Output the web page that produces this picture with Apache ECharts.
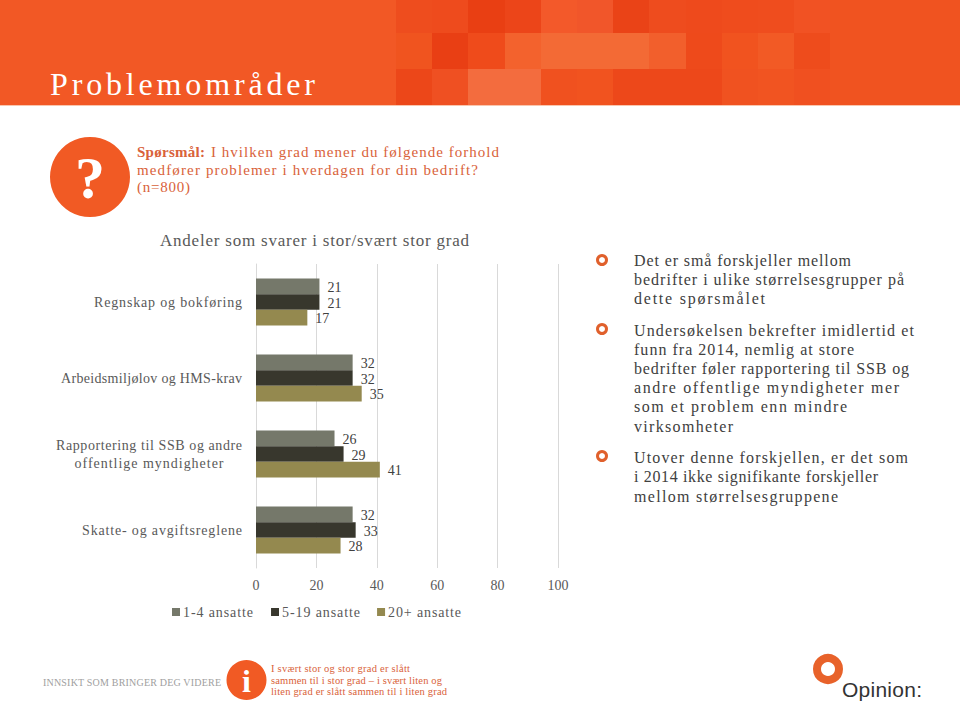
<!DOCTYPE html>
<html><head><meta charset="utf-8">
<style>html,body{margin:0;padding:0;background:#fff;overflow:hidden}#c{width:960px;height:702px}</style>
<script src="https://cdn.jsdelivr.net/npm/echarts@6/dist/echarts.min.js"></script>
</head><body><div id="c"></div>
<script>
// Chart data
const categories = ['Regnskap og bokføring','Arbeidsmiljølov og HMS-krav','Rapportering til SSB og andre\noffentlige myndigheter','Skatte- og avgiftsreglene'];
const seriesNames = ['1-4 ansatte','5-19 ansatte','20+ ansatte'];
const small = [21,32,26,32];
const medium = [21,32,29,33];
const large = [17,35,41,28];
const ticks = [0,20,40,60,80,100];
const chartTitle = 'Andeler som svarer i stor/svært stor grad';
const pageTitle = 'Problemområder';

const F = '"Liberation Serif"';
const colors = ['#75786a','#38372d','#94894f'];
const orangeText = '#d9623a';

// rendered width of each text line in the slide
const widths = {
  'Problemområder':265,
  'Spørsmål:':68,
  'I hvilken grad mener du følgende forhold':288,
  'medfører problemer i hverdagen for din bedrift?':341,
  '(n=800)':53,
  'Det er små forskjeller mellom':217,
  'bedrifter i ulike størrelsesgrupper på':270,
  'dette spørsmålet':131,
  'Undersøkelsen bekrefter imidlertid et':280,
  'funn fra 2014, nemlig at store':220,
  'bedrifter føler rapportering til SSB og':275,
  'andre offentlige myndigheter mer':265,
  'som et problem enn mindre':213,
  'virksomheter':99,
  'Utover denne forskjellen, er det som':274,
  'i 2014 ikke signifikante forskjeller':244,
  'mellom størrelsesgruppene':204,
  'INNSIKT SOM BRINGER DEG VIDERE':178,
  'I svært stor og stor grad er slått':139,
  'sammen til i stor grad – i svært liten og':171,
  'liten grad er slått sammen til i liten grad':176,
  'Opinion:':80,
  'Regnskap og bokføring':148,
  'Arbeidsmiljølov og HMS-krav':181,
  'Rapportering til SSB og andre':186,
  'offentlige myndigheter':149,
  'Skatte- og avgiftsreglene':160,
  'Andeler som svarer i stor/svært stor grad':309,
  '1-4 ansatte':70,
  '5-19 ansatte':78,
  '20+ ansatte':73
};

// header mosaic
const mosaicX = [396,432,468,505,541,577,613,649,686,722,758,794,830];
const mosaicColors = [
  ['#ee4d1e','#ee4b1d','#e93f13','#ec4519','#f3592a','#f1562a','#ea4317','#ee4c1e','#ee4a1c','#ef4c1d','#ef4d1e','#f15223'],
  ['#f0541f','#e93f14','#ef4b1b','#f3622d','#f36a35','#f36a35','#f36a35','#f25f2c','#ee4a1b','#f1531f','#f25a25','#ee4c1c'],
  ['#ec4719','#ef5022','#f36c3e','#f36c3e','#f0511f','#f1531f','#ed481a','#ed481a','#ed481a','#f05220','#f15421','#f05020']
];
const mosaicY = [0,33,69,105];

const gfx = [];
const rect = (x,y,w,h,fill) => gfx.push({type:'rect',silent:true,shape:{x,y,width:w,height:h},style:{fill}});
const ring = (cx,cy,r,lw,stroke) => gfx.push({type:'circle',silent:true,shape:{cx,cy,r},style:{fill:'none',stroke,lineWidth:lw}});
const disc = (cx,cy,r,fill) => gfx.push({type:'circle',silent:true,shape:{cx,cy,r},style:{fill}});
const txt = (x,y,t,font,fill,align) => gfx.push({type:'text',silent:true,x,y,style:{text:t,font,fill,textAlign:align||'left',textVerticalAlign:'middle'}});

rect(0,0,960,105,'#f25825');
rect(830,0,130,105,'#f05320');
mosaicColors.forEach((row,r)=>row.forEach((c,i)=>rect(mosaicX[i],mosaicY[r],mosaicX[i+1]-mosaicX[i],mosaicY[r+1]-mosaicY[r],c)));
rect(0,105,960,1,'#f9c6ae');
txt(50,84,pageTitle,'32px '+F,'#ffffff');

disc(90,177,40,'#f15a24');
txt(90,178,'?','bold 60px '+F,'#ffffff','center');
txt(137,152,'Spørsmål:','bold 15px '+F,orangeText);
txt(211,152,'I hvilken grad mener du følgende forhold','15px '+F,orangeText);
txt(137,170,'medfører problemer i hverdagen for din bedrift?','15px '+F,orangeText);
txt(137,187,'(n=800)','15px '+F,orangeText);

const notes = [
  [260,'Det er små forskjeller mellom'],[279,'bedrifter i ulike størrelsesgrupper på'],[298,'dette spørsmålet'],
  [330,'Undersøkelsen bekrefter imidlertid et'],[349,'funn fra 2014, nemlig at store'],[368,'bedrifter føler rapportering til SSB og'],[387,'andre offentlige myndigheter mer'],[406,'som et problem enn mindre'],[426,'virksomheter'],
  [457,'Utover denne forskjellen, er det som'],[476,'i 2014 ikke signifikante forskjeller'],[496,'mellom størrelsesgruppene']
];
notes.forEach(n=>txt(634,n[0],n[1],'16px '+F,'#404040'));
[260,329,456].forEach(y=>ring(602,y,4.5,3,'#e0602c'));

txt(43,682,'INNSIKT SOM BRINGER DEG VIDERE','10px '+F,'#a0a0a0');
disc(246.5,680,20,'#f15a24');
txt(246.5,681,'i','bold 32px '+F,'#ffffff','center');
txt(271,668,'I svært stor og stor grad er slått','10.5px '+F,orangeText);
txt(271,680,'sammen til i stor grad – i svært liten og','10.5px '+F,orangeText);
txt(271,691,'liten grad er slått sammen til i liten grad','10.5px '+F,orangeText);
ring(828,669,11,8,'#e8622a');
txt(842,689,'Opinion:','21px "Liberation Sans"','#333333');

const chart = echarts.init(document.getElementById('c'), null, {renderer:'svg'});
const mk = (name,vals,c) => ({name,type:'bar',data:vals,barGap:'0%',barCategoryGap:'38%',itemStyle:{color:c},
  label:{show:true,position:'right',distance:8,offset:[0,1],fontFamily:F,fontSize:14,color:'#404040'}});
chart.setOption({
  animation:false,
  backgroundColor:'#fff',
  grid:{left:256,right:402,top:264,bottom:134},
  legend:{data:seriesNames,left:167,top:600,itemWidth:8,itemHeight:8,itemGap:27,icon:'rect',
    textStyle:{fontFamily:F,fontSize:14,color:'#595959',padding:[0,0,0,-2]}},
  title:{text:chartTitle,left:155,top:227,textStyle:{fontFamily:F,fontSize:17,fontWeight:'normal',color:'#595959'}},
  xAxis:{type:'value',min:ticks[0],max:ticks[ticks.length-1],interval:ticks[1]-ticks[0],axisLine:{show:false},axisTick:{show:false},
    splitLine:{lineStyle:{color:'#d9d9d9',width:1}},
    axisLabel:{fontFamily:F,fontSize:14,color:'#595959',margin:10}},
  yAxis:{type:'category',inverse:true,data:categories,axisTick:{show:false},axisLine:{lineStyle:{color:'#d9d9d9'}},
    axisLabel:{fontFamily:F,fontSize:14,color:'#595959',margin:14,
      formatter:v=>v.includes('\n')?v.split('\n').map(s=>'{c|'+s+'}').join('\n'):v,
      rich:{c:{width:186,align:'center',lineHeight:18,fontFamily:F,fontSize:14,color:'#595959'}}}},
  series:[mk(seriesNames[0],small,colors[0]),mk(seriesNames[1],medium,colors[1]),mk(seriesNames[2],large,colors[2])],
  graphic:{elements:gfx}
});
function fit(){
  document.querySelectorAll('#c svg text').forEach(t=>{
    const w=widths[t.textContent.trim()];
    if(w){t.setAttribute('textLength',w);t.setAttribute('lengthAdjust','spacing');}
  });
}
fit();
chart.on('finished',fit);
</script></body></html>
